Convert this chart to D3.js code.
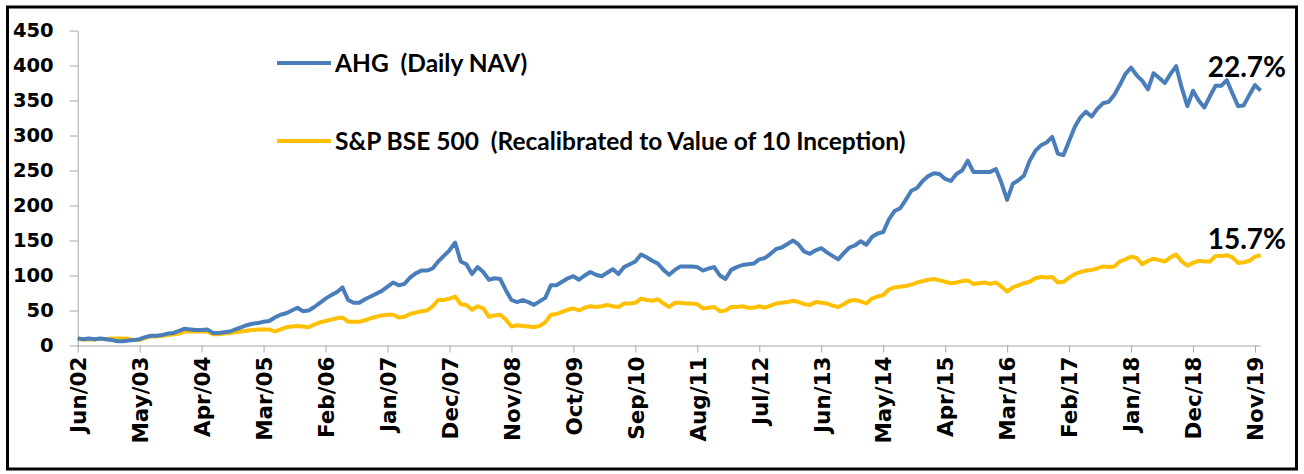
<!DOCTYPE html>
<html>
<head>
<meta charset="utf-8">
<script src="https://cdn.jsdelivr.net/npm/d3@7"></script>
<style>
  html, body { margin: 0; padding: 0; background: #ffffff; }
  svg { display: block; }
</style>
</head>
<body>
<svg id="chart" width="1304" height="474"></svg>
<script>
// ---- data (monthly, Jun/02 .. Dec/19) ----
const tickLabels = ["Jun/02","May/03","Apr/04","Mar/05","Feb/06","Jan/07","Dec/07","Nov/08","Oct/09","Sep/10",
                    "Aug/11","Jul/12","Jun/13","May/14","Apr/15","Mar/16","Feb/17","Jan/18","Dec/18","Nov/19"];
const yTicks = [0, 50, 100, 150, 200, 250, 300, 350, 400, 450];
const seriesNames = ["AHG  (Daily NAV)", "S&P BSE 500  (Recalibrated to Value of 10 Inception)"];
const endLabels = ["22.7%", "15.7%"];

const ahg = [
  10,9,10,9,10,9,8,6,6,7,
  8,9,12,14,14,15,17,18,21,24,
  23,22,22,23,18,18,19,20,23,26,
  29,31,32,34,35,40,44,46,50,54,
  49,50,55,61,67,72,76,83,65,61,
  61,66,70,74,78,84,90,86,88,97,
  103,107,107,110,120,128,136,147,120,116,
  102,112,105,94,96,95,79,65,62,65,
  62,58,63,68,86,86,91,96,99,94,
  100,105,101,99,104,109,102,112,116,120,
  130,126,121,117,108,101,108,113,113,113,
  112,107,110,112,100,95,108,112,115,116,
  117,123,125,131,138,140,145,150,144,134,
  131,136,139,133,128,123,132,140,143,149,
  144,155,160,162,180,192,196,208,221,225,
  235,242,246,245,238,235,245,250,264,248,
  248,248,248,252,232,208,231,236,243,264,
  278,286,290,298,274,272,292,312,326,334,
  327,338,346,348,358,372,388,397,386,378,
  366,389,382,375,388,399,368,342,364,350,
  340,356,371,371,379,360,342,343,358,372,
  364
];
const bse = [
  10,8.5,9,8.5,9.5,9,10,10,10,9.5,
  8,8,11,13,13,14,15,16,17,20,
  20,20,20,20,16,16,17,18,19,20,
  21,22,23,23,23,20,23,26,27,28,
  27,26,30,33,35,37,39,40,34,34,
  34,36,39,41,43,44,44,40,41,45,
  47,49,50,56,65,65,67,70,59,58,
  51,56,53,41,43,44,37,27,29,28,
  27,26,28,33,44,45,48,51,53,50,
  54,56,55,56,58,56,55,60,60,61,
  67,65,64,66,60,55,61,61,60,60,
  59,53,54,55,49,50,55,55,56,54,
  54,56,54,57,60,61,62,64,62,59,
  58,62,61,60,57,55,59,64,65,63,
  60,67,70,72,80,83,84,85,87,90,
  92,94,95,93,91,89,90,92,93,88,
  89,90,88,90,84,77,83,86,89,91,
  96,98,97,98,90,91,97,102,105,107,
  108,110,113,112,113,120,123,127,125,116,
  121,124,122,120,126,130,120,114,118,121,
  120,120,128,128,129,126,118,119,121,127,
  129
];
const tickStep = 11;

// ---- chart ----
const svg = d3.select("#chart");
const colors = ["#4A7EBB", "#FFC000"];
const axisColor = "#A6A6A6";

svg.append("rect").attr("x", 7.5).attr("y", 7).attr("width", 1289).attr("height", 462)
  .attr("fill", "#fff").attr("stroke", "#000").attr("stroke-width", 3);

const nPts = ahg.length;
const x = d3.scaleLinear().domain([0, 209]).range([77.7, 1255]);
const y = d3.scaleLinear().domain([0, 450]).range([345.5, 30.5]);

// y axis
const yAxis = svg.append("g").attr("transform", `translate(${x(0)},0)`)
  .call(d3.axisLeft(y).tickValues(yTicks).tickSize(8).tickSizeOuter(0).tickPadding(16));
yAxis.select(".domain").attr("stroke", axisColor);
yAxis.selectAll(".tick line").attr("stroke", axisColor);
yAxis.selectAll(".tick text").attr("fill", "#000")
  .style("font-family", "'DejaVu Sans', sans-serif").style("font-weight", "bold").style("font-size", "19.5px");

// x axis
const xTickVals = tickLabels.map((d, i) => i * tickStep);
const xAxis = svg.append("g").attr("transform", `translate(0,${y(0)})`)
  .call(d3.axisBottom(x).tickValues(xTickVals).tickFormat((d, i) => tickLabels[i]).tickSize(7).tickSizeOuter(0));
xAxis.select(".domain").attr("stroke", axisColor).attr("d", `M${x(0)},0.5H${x(nPts - 1)}`);
xAxis.selectAll(".tick line").attr("stroke", axisColor);
xAxis.selectAll(".tick text").attr("fill", "#000")
  .style("font-family", "'DejaVu Sans', sans-serif").style("font-weight", "bold").style("font-size", "21.5px")
  .attr("text-anchor", "end").attr("transform", "rotate(-90)")
  .attr("x", -11).attr("y", 0).attr("dy", "0.36em");

// lines
const line = d3.line().x((d, i) => x(i)).y(d => y(d));
[bse, ahg].forEach((s, k) => {
  svg.append("path").datum(s).attr("fill", "none")
    .attr("stroke", colors[1 - k]).attr("stroke-width", 4)
    .attr("stroke-linejoin", "round").attr("d", line);
});

// legend
const legY = [63, 141];
seriesNames.forEach((n, i) => {
  svg.append("line").attr("x1", 277).attr("x2", 331).attr("y1", legY[i]).attr("y2", legY[i])
    .attr("stroke", colors[i]).attr("stroke-width", 4);
  svg.append("text").attr("x", 335).attr("y", legY[i] + 8.5).text(n)
    .style("font-family", "Lato, sans-serif").style("font-weight", "bold").style("font-size", "24.5px")
    .attr("fill", "#000").attr("xml:space", "preserve").style("white-space", "pre");
});

// end labels
const endY = [77, 249];
endLabels.forEach((t, i) => {
  svg.append("text").attr("x", 1286).attr("y", endY[i]).attr("text-anchor", "end").text(t)
    .style("font-family", "Lato, sans-serif").style("font-weight", "bold").style("font-size", "28px").attr("fill", "#000");
});
</script>
</body>
</html>
